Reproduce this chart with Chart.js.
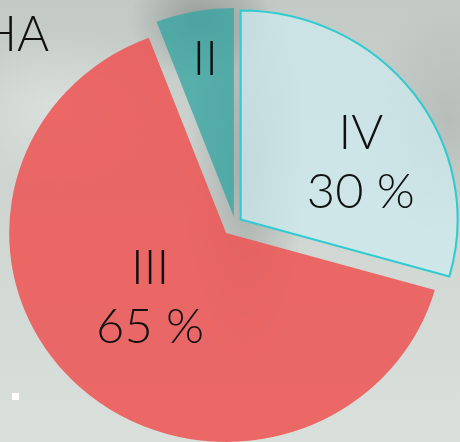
<!DOCTYPE html>
<html>
<head>
<meta charset="utf-8">
<script src="https://cdn.jsdelivr.net/npm/chart.js@4.4.1/dist/chart.umd.min.js"></script>
<style>
    html, body {
        margin: 0;
        padding: 0;
    }
    body {
        width: 460px;
        height: 442px;
        overflow: hidden;
        position: relative;
        background:
            radial-gradient(ellipse 70px 60px at 200px 20px, rgba(130, 135, 132, 0.7), rgba(130, 135, 132, 0) 100%),
            radial-gradient(ellipse 60px 200px at 245px 170px, rgba(140, 146, 143, 0.6), rgba(140, 146, 143, 0) 100%),
            radial-gradient(ellipse 90px 120px at 450px 120px, rgba(170, 176, 173, 0.6), rgba(170, 176, 173, 0) 100%),
            radial-gradient(ellipse 120px 80px at 60px 110px, rgba(225, 230, 227, 0.7), rgba(225, 230, 227, 0) 100%),
            linear-gradient(180deg, #c3cac6 0%, #cfd6d2 45%, #d9e0dc 100%);
    }
    #title {
        position: absolute;
        left: -20px;
        top: 8px;
        font: 300 49px Lato, "Open Sans", sans-serif;
        color: #111;
        line-height: 1;
    }
    #dot {
        position: absolute;
        left: 12px;
        top: 393px;
        width: 7px;
        height: 7px;
        background: #ffffff;
    }
    #pie {
        position: absolute;
        left: 0;
        top: 0;
    }
</style>
</head>
<body>
<div id="title">HA</div>
<div id="dot"></div>
<canvas id="pie" width="460" height="442"></canvas>
<script>
// slice data (clockwise from 12 o'clock)
const sliceNames = ["IV", "III", "II"];
const sliceValues = [29.4, 64.8, 5.8];
const sliceLabels = ["30 %", "65 %", ""];

const fillColors = ["rgba(205, 235, 240, 0.72)", "rgba(238, 84, 84, 0.86)", "rgba(55, 165, 163, 0.78)"];
const edgeColors = ["#2fcbd0", "rgba(0,0,0,0)", "rgba(0,0,0,0)"];
const edgeWidths = [2, 0, 0];
const sliceShift = [6.7, 12.8, 6.6];   // px each slice is pulled out along its middle

// where each label sits inside its slice
const labelTurn = [11.3, 5.8, 0.5];    // degrees added to the slice mid angle
const labelDepth = [0.615, 0.47, 0.763];

// the picture is slightly wider than tall
const stretchX = 1.038;

const stretchPlugin = {
    id: "stretch",
    beforeDraw(chart) {
        chart.ctx.save();
        chart.ctx.scale(stretchX, 1);
    },
    afterDraw(chart) {
        chart.ctx.restore();
    }
};

// draw the slices pulled apart (without growing the big one)
const shiftPlugin = {
    id: "sliceShift",
    beforeDatasetDraw(chart, args) {
        const ctx = chart.ctx;
        args.meta.data.forEach((arc, i) => {
            const mid = (arc.startAngle + arc.endAngle) / 2;
            ctx.save();
            ctx.translate(Math.cos(mid) * sliceShift[i], Math.sin(mid) * sliceShift[i]);
            arc.draw(ctx);
            ctx.restore();
        });
        return false;
    }
};

const sliceTextPlugin = {
    id: "sliceText",
    afterDatasetsDraw(chart) {
        const ctx = chart.ctx;
        const meta = chart.getDatasetMeta(0);
        ctx.save();
        ctx.fillStyle = "#111111";
        ctx.font = '300 47px Lato, "Open Sans", sans-serif';
        ctx.textAlign = "center";
        ctx.textBaseline = "middle";
        meta.data.forEach((arc, i) => {
            const mid = (arc.startAngle + arc.endAngle) / 2;
            const a = mid + labelTurn[i] * Math.PI / 180;
            const r = arc.outerRadius * labelDepth[i];
            const cx = arc.x + Math.cos(mid) * sliceShift[i] + Math.cos(a) * r;
            const cy = arc.y + Math.sin(mid) * sliceShift[i] + Math.sin(a) * r;
            const lines = [sliceNames[i], sliceLabels[i]].filter(t => t);
            const step = 59;
            lines.forEach((t, k) => {
                ctx.fillText(t, cx, cy + (k - (lines.length - 1) / 2) * step);
            });
        });
        ctx.restore();
    }
};

const ctx = document.getElementById("pie").getContext("2d");

new Chart(ctx, {
    type: "pie",
    data: {
        labels: sliceNames,
        datasets: [{
            data: sliceValues,
            backgroundColor: fillColors,
            borderColor: edgeColors,
            borderWidth: edgeWidths,
            borderJoinStyle: "miter"
        }]
    },
    options: {
        responsive: false,
        animation: false,
        radius: 209,
        layout: {
            padding: { right: 7, top: 5 }
        },
        plugins: {
            legend: { display: false },
            tooltip: { enabled: false }
        }
    },
    plugins: [stretchPlugin, shiftPlugin, sliceTextPlugin]
});
</script>
</body>
</html>
